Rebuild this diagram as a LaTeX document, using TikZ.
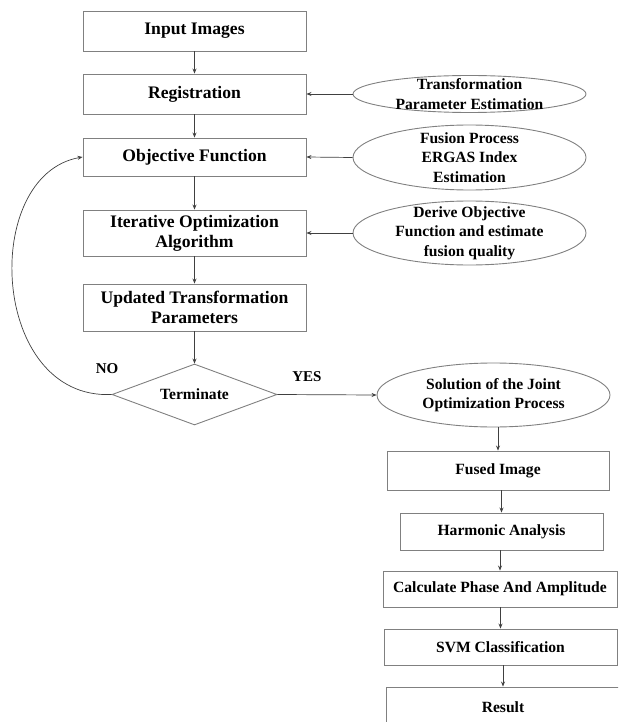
\documentclass[tikz,border=0pt]{standalone}
\usepackage{fontspec}
\setmainfont{Liberation Serif}
\usetikzlibrary{arrows.meta,positioning,shapes.geometric}
\definecolor{boxgray}{RGB}{128,128,128}
\definecolor{linegray}{RGB}{64,64,64}

\begin{document}
\begin{tikzpicture}[x=1pt,y=-1pt,
  box/.style={draw=boxgray,line width=0.9pt,inner sep=0pt,align=center,minimum width=223pt,
    font=\bfseries\fontsize{17.6}{20}\selectfont},
  sbox/.style={box,font=\bfseries\fontsize{15.6}{19.5}\selectfont},
  oval/.style={ellipse,draw=boxgray,line width=0.9pt,inner sep=0pt,minimum width=233pt},
  otext/.style={inner sep=0pt,align=center,font=\bfseries\fontsize{15.6}{19.5}\selectfont},
  lab/.style={inner sep=0pt,font=\bfseries\fontsize{15}{18}\selectfont},
  arr/.style={-{Stealth[length=5pt,width=4pt]},linegray,line width=0.7pt}]
\useasboundingbox (0,0) rectangle (618,722);
\clip (0,0) rectangle (618,722);
\node[box,minimum height=40pt] (input) at (194.5,31) {Input Images};
\node[box,minimum height=40pt] (reg) at (194.5,94) {Registration};
\node[box,minimum height=38pt] (obj) at (194.5,157) {Objective Function};
\node[box,minimum height=46pt] (iter) at (194.5,233) {Iterative Optimization\\Algorithm};
\node[box,minimum height=47pt] (upd) at (194.5,307.5) {Updated Transformation\\Parameters};
\node[diamond,draw=boxgray,line width=0.9pt,inner sep=0pt,aspect=2.7,minimum width=165pt,minimum height=61pt,
  font=\bfseries\fontsize{15.6}{19.5}\selectfont] (term) at (194.5,394.5) {Terminate};
\node[oval,minimum height=37pt] (tpe) at (469.5,94) {};
\node[otext] at (tpe) {Transformation\\Parameter Estimation};
\node[oval,minimum height=65pt] (fpe) at (469.5,157.5) {};
\node[otext] at (fpe) {Fusion Process\\ERGAS Index\\Estimation};
\node[oval,minimum height=64pt] (dof) at (469.5,233) {};
\node[otext] at (dof) {Derive Objective\\Function and estimate\\fusion quality};
\node[oval,minimum height=64pt] (sol) at (493.5,395) {};
\node[otext] at (sol) {Solution of the Joint\\Optimization Process};
\node[sbox,minimum width=222pt,minimum height=39pt] (fused) at (498,470.5) {Fused Image};
\node[sbox,minimum width=203pt,minimum height=37pt] (harm) at (501.5,531.5) {Harmonic Analysis};
\node[sbox,minimum width=234pt,minimum height=36pt] (calc) at (500,589) {Calculate Phase And Amplitude};
\node[sbox,minimum width=233pt,minimum height=36pt] (svm) at (500.5,647) {SVM Classification};
\node[sbox,minimum width=234pt,minimum height=40pt] (result) at (503,707) {Result};
\node[lab] (no) at (107,369) {NO};
\node[lab] (yes) at (307,377) {YES};
\foreach \a/\b in {input/reg,reg/obj,obj/iter,iter/upd,upd/term}
  \draw[arr] (\a) -- (\b);
\foreach \a/\b in {tpe/reg,fpe/obj,dof/iter}
  \draw[arr] (\a.west) -- (\b.east);
\draw[arr] (term.east) -- (sol.west);
\draw[arr] (fused.north |- sol.south) -- (fused.north);
\foreach \a/\b in {fused/harm,harm/calc,calc/svm,svm/result}
  \draw[arr] (\b.north |- \a.south) -- (\b.north);
\draw[arr] (term.west) .. controls (-10,400) and (-20,175) .. (obj.west);
\end{tikzpicture}
\end{document}
